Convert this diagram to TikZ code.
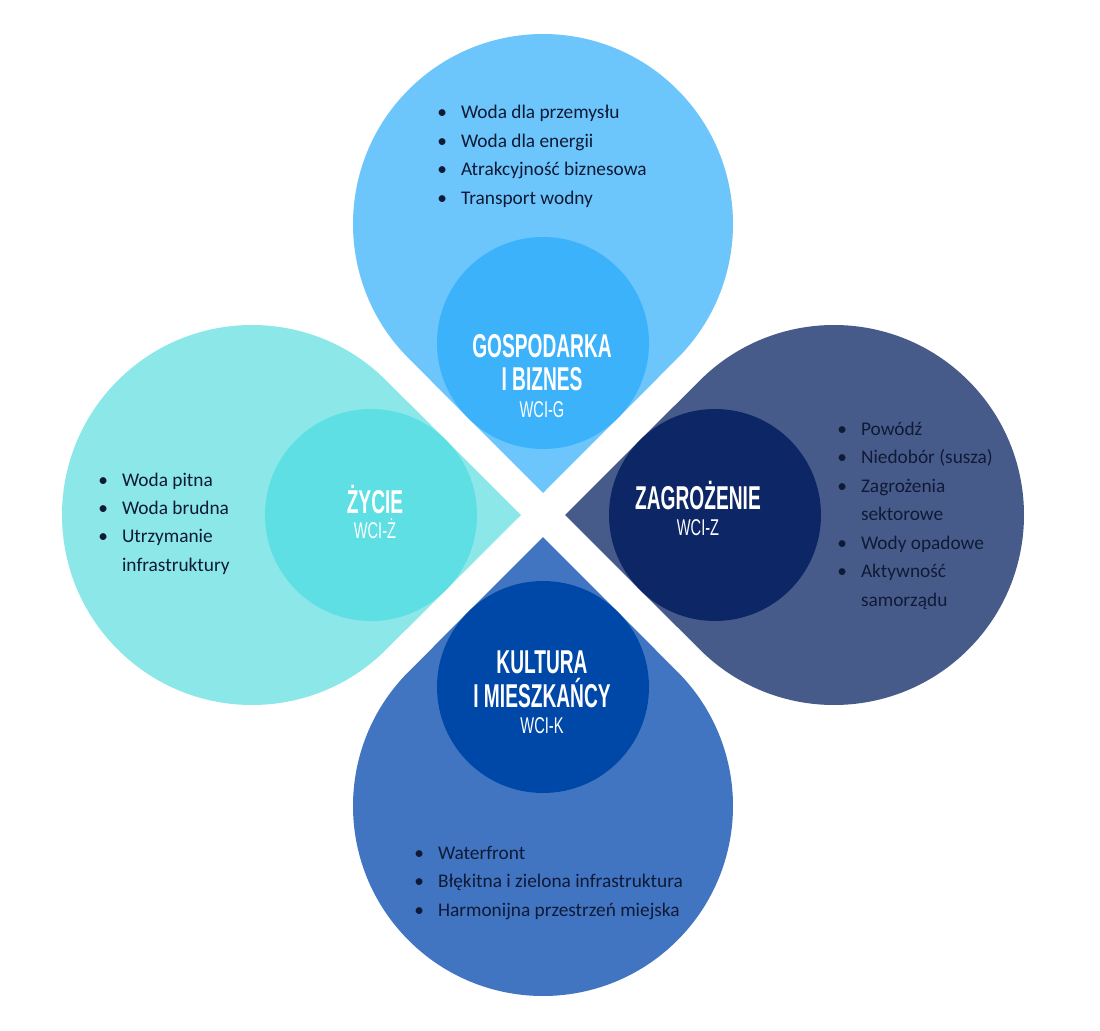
\documentclass[tikz,border=0pt]{standalone}
\usepackage{fontspec}
\usepackage{tikz}
\usetikzlibrary{calc}
\setmainfont{Carlito}
\newfontfamily\titlefont[FakeStretch=0.58]{Liberation Sans}
\newfontfamily\codefont[FakeStretch=0.64]{Liberation Sans}

\definecolor{gospo}{HTML}{6CC6FB}
\definecolor{gospoin}{HTML}{3CB2FA}
\definecolor{zagro}{HTML}{475B8A}
\definecolor{zagroin}{HTML}{0D2766}
\definecolor{kult}{HTML}{4175C2}
\definecolor{kultin}{HTML}{0048A8}
\definecolor{zycie}{HTML}{8BE7E8}
\definecolor{zyciein}{HTML}{5DDFE4}
\definecolor{itemtext}{HTML}{0F1A36}

\tikzset{
  title/.style={anchor=base, inner sep=0pt, text=white,
    font=\titlefont\bfseries\fontsize{18.8}{19}\selectfont},
  code/.style={anchor=base, inner sep=0pt, text=white,
    font=\codefont\fontsize{13}{14}\selectfont},
  items/.style={anchor=west, inner sep=0pt, text=itemtext,
    font=\fontsize{11}{16.2}\selectfont}
}
\newcommand{\bul}{\textbullet}

\begin{document}
\begin{tikzpicture}[x=0.02cm, y=-0.02cm]
  \fill[white] (0,0) rectangle (1100,1031);
  \useasboundingbox (0,0) rectangle (1100,1031);
  \coordinate (O) at (543,515);
  % four drops pointing to the middle
  \foreach \dir/\co/\ci in {-90/gospo/gospoin, 0/zagro/zagroin, 90/kult/kultin, 180/zycie/zyciein}{
    \fill[\co] ($(O)+(\dir:22)$) -- ($(O)+(\dir:291)+(\dir+225:190)$)
      arc[start angle=\dir+225, end angle=\dir+495, radius=190] -- cycle;
    \fill[\ci] ($(O)+(\dir:172)$) circle[radius=106];
  }

  % titles
  \node[title] (g1) at (542,357) {GOSPODARKA};
  \node[title] (g2) at (542,390) {I BIZNES};
  \node[code]  (g3) at (542,417) {WCI-G};
  \node[title] (z1) at (698,509) {ZAGROŻENIE};
  \node[code]  (z2) at (698,535) {WCI-Z};
  \node[title] (y1) at (375,513) {ŻYCIE};
  \node[code]  (y2) at (375,538) {WCI-Ż};
  \node[title] (k1) at (542,673) {KULTURA};
  \node[title] (k2) at (542,707) {I MIESZKAŃCY};
  \node[code]  (k3) at (542,733) {WCI-K};

  % lists
  \node[items] (glist) at (437,156) {\begin{tabular}{@{}l@{\hspace{8pt}}l@{}}
    \bul & Woda dla przemysłu\\
    \bul & Woda dla energii\\
    \bul & Atrakcyjność biznesowa\\
    \bul & Transport wodny
  \end{tabular}};
  \node[items] (zlist) at (837,515) {\begin{tabular}{@{}l@{\hspace{8pt}}l@{}}
    \bul & Powódź\\
    \bul & Niedobór (susza)\\
    \bul & Zagrożenia\\
         & sektorowe\\
    \bul & Wody opadowe\\
    \bul & Aktywność\\
         & samorządu
  \end{tabular}};
  \node[items] (ylist) at (98,523) {\begin{tabular}{@{}l@{\hspace{8pt}}l@{}}
    \bul & Woda pitna\\
    \bul & Woda brudna\\
    \bul & Utrzymanie\\
         & infrastruktury
  \end{tabular}};
  \node[items] (klist) at (414,882) {\begin{tabular}{@{}l@{\hspace{8pt}}l@{}}
    \bul & Waterfront\\
    \bul & Błękitna i zielona infrastruktura\\
    \bul & Harmonijna przestrzeń miejska
  \end{tabular}};
\end{tikzpicture}
\end{document}
